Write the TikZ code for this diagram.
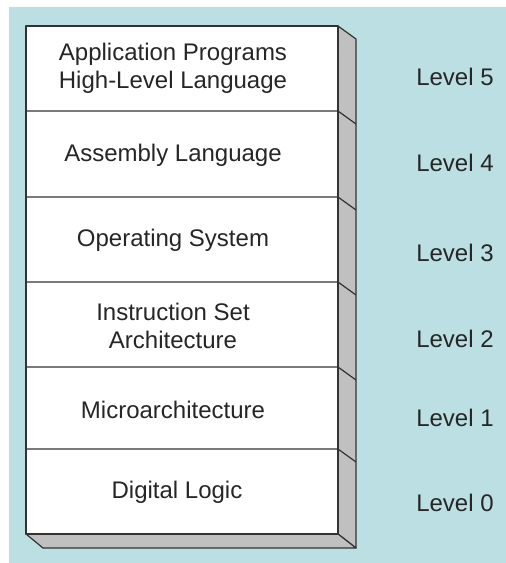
\documentclass[tikz,border=0pt]{standalone}
\usepackage{fontspec}
\setmainfont{Liberation Sans}
\definecolor{bgblue}{HTML}{BBDFE3}
\definecolor{sidegray}{HTML}{C0C0C0}
\tikzset{
  layer/.style={font=\fontsize{24}{28}\selectfont, align=center, text=black!85, inner sep=0pt},
  lvl/.style={font=\fontsize{24}{28}\selectfont, text=black!85, inner sep=0pt},
  edge/.style={draw=black!80, line width=1.2pt, line join=round}
}

\begin{document}
\begin{tikzpicture}[x=1pt,y=-1pt]
  \useasboundingbox (0,0) rectangle (506,563);
  \fill[bgblue] (9,7) rectangle (506,563);
  % side and bottom of the stack
  \filldraw[edge, fill=sidegray] (338,26) -- (356,39) -- (356,548) -- (338,534) -- cycle;
  \filldraw[edge, fill=sidegray] (26,534) -- (338,534) -- (356,548) -- (43,548) -- cycle;
  \filldraw[edge, fill=white] (26,26) rectangle (338,534);
  % layer borders
  \foreach \y in {111,197,282,367,449}
    \draw[edge] (26,\y) -- (338,\y) -- (356,\y+13);
  % layers
  \node[layer] (app) at (173,68) {Application Programs\\High-Level Language};
  \node[layer] (asm) at (173,155) {Assembly Language};
  \node[layer] (os) at (173,240) {Operating System};
  \node[layer] (isa) at (173,326) {Instruction Set\\Architecture};
  \node[layer] (micro) at (173,410) {Microarchitecture};
  \node[layer] (logic) at (177,492) {Digital Logic};
  % level labels
  \node[lvl] (lvl5) at (455,77) {Level 5};
  \node[lvl] (lvl4) at (455,163) {Level 4};
  \node[lvl] (lvl3) at (455,253) {Level 3};
  \node[lvl] (lvl2) at (455,339) {Level 2};
  \node[lvl] (lvl1) at (455,418) {Level 1};
  \node[lvl] (lvl0) at (455,503) {Level 0};
\end{tikzpicture}
\end{document}
